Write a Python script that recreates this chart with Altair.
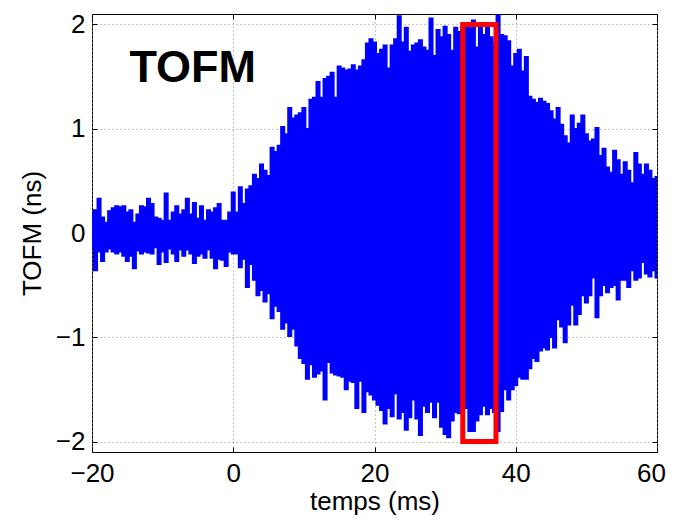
import altair as alt
import pandas as pd

# Envelope of the TOFM signal, every 0.5 ms from -20 to 60 ms
t_start = -20.0
t_step = 0.5
upper = [
    0.2, 0.22, 0.33, 0.15, 0.1, 0.21, 0.24, 0.26, 0.25, 0.26, 0.2, 0.22, 0.1, 0.18, 0.26, 0.25, 0.33, 0.28, 0.15, 0.14, 0.12,
    0.38, 0.12, 0.2, 0.26, 0.18, 0.22, 0.33, 0.18, 0.29, 0.14, 0.26, 0.12, 0.22, 0.2, 0.24, 0.28, 0.12, 0.12, 0.2, 0.39,
    0.2, 0.44, 0.28, 0.42, 0.45, 0.56, 0.52, 0.66, 0.6, 0.55, 0.82, 0.78, 0.84, 1.02, 0.95, 1.2, 1.1, 1.13, 1.15, 1.2,
    1.0, 1.28, 1.3, 1.45, 1.3, 1.48, 1.5, 1.54, 1.3, 1.6, 1.58, 1.56, 1.57, 1.61, 1.56, 1.6, 1.66, 1.82, 1.86, 1.83,
    1.72, 1.76, 1.8, 1.58, 1.8, 1.86, 2.08, 1.83, 1.97, 1.74, 1.8, 1.82, 1.85, 1.78, 1.75, 2.06, 1.7, 1.95, 1.88, 1.98,
    1.9, 1.75, 1.97, 1.93, 1.98, 1.98, 2.0, 2.04, 1.78, 2.0, 1.9, 1.99, 1.88, 1.83, 2.09, 1.9, 1.89, 1.84, 1.6, 1.72,
    1.76, 1.55, 1.69, 1.31, 1.28, 1.25, 1.29, 1.26, 1.24, 1.17, 1.09, 1.2, 1.04, 0.93, 0.86, 1.13, 1.0, 1.05, 1.13, 0.95,
    0.88, 0.9, 1.01, 0.74, 0.81, 0.63, 0.58, 0.79, 0.7, 0.56, 0.68, 0.6, 0.48, 0.77, 0.66, 0.56, 0.66, 0.6, 0.52, 0.54,
]
lower = [
    -0.15, -0.36, -0.18, -0.27, -0.18, -0.15, -0.18, -0.2, -0.18, -0.22, -0.27, -0.22, -0.34, -0.17, -0.2, -0.18, -0.19, -0.2, -0.14, -0.3, -0.18,
    -0.28, -0.15, -0.2, -0.27, -0.16, -0.22, -0.16, -0.2, -0.29, -0.22, -0.2, -0.24, -0.16, -0.24, -0.34, -0.25, -0.26, -0.32, -0.18, -0.2,
    -0.2, -0.33, -0.25, -0.52, -0.3, -0.45, -0.6, -0.55, -0.66, -0.58, -0.82, -0.7, -0.75, -0.92, -0.86, -0.99, -0.92, -1.08, -1.2, -1.25,
    -1.4, -1.26, -1.38, -1.35, -1.32, -1.6, -1.24, -1.34, -1.36, -1.37, -1.38, -1.5, -1.42, -1.43, -1.68, -1.42, -1.72, -1.52, -1.55, -1.6,
    -1.65, -1.7, -1.83, -1.68, -1.76, -1.54, -1.78, -1.72, -1.89, -1.77, -1.6, -1.78, -1.94, -1.66, -1.72, -1.62, -1.77, -1.62, -1.86, -1.93,
    -1.96, -1.8, -1.72, -1.73, -1.68, -1.68, -1.9, -1.9, -1.8, -1.74, -1.66, -1.74, -1.68, -1.72, -1.9, -1.71, -1.5, -1.6, -1.5, -1.46,
    -1.38, -1.4, -1.4, -1.3, -1.2, -1.23, -1.13, -1.1, -1.12, -1.0, -1.1, -0.83, -0.9, -1.05, -0.88, -0.69, -0.88, -0.78, -0.6, -0.67,
    -0.6, -0.43, -0.81, -0.6, -0.5, -0.57, -0.52, -0.5, -0.64, -0.45, -0.45, -0.52, -0.36, -0.45, -0.43, -0.28, -0.39, -0.42, -0.36, -0.43,
]
times = [t_start + i * t_step for i in range(len(upper))]

# Highlight box (ms, ns)
box_t1, box_t2 = [32.5], [37.2]
box_y1, box_y2 = [-2.0], [2.0]

# Annotation
label_text = ["TOFM"]
label_t = [-14.7]
label_y = [1.45]

x_ticks = [-20, 0, 20, 40, 60]
y_ticks = [-2, -1, 0, 1, 2]

FONT = "Liberation Sans"
BLUE = "#0000ff"
FS = 26

sig = pd.DataFrame({"t": times, "upper": upper, "lower": lower})
box = pd.DataFrame({"t1": box_t1, "t2": box_t2, "y1": box_y1, "y2": box_y2})
lab = pd.DataFrame({"t": label_t, "y": label_y, "label": label_text})

xscale = alt.Scale(domain=[-20, 60], nice=False, zero=False)
yscale = alt.Scale(domain=[-2.1, 2.1], nice=False, zero=False)

common_axis = dict(
    grid=True, gridDash=[1, 3], gridColor="#8c8c8c", gridWidth=1,
    domain=False, ticks=True, tickSize=5, tickColor="black", tickWidth=1, offset=-5,
    labelFontSize=FS, labelFont=FONT, labelColor="black", labelFlush=False,
    titleFont=FONT, titleFontSize=FS, titleFontWeight="normal", titleColor="black",
    format="d",
)

area = alt.Chart(sig).mark_area(color=BLUE, opacity=1, clip=True, interpolate="step").encode(
    x=alt.X("t:Q", scale=xscale, title="temps (ms)",
            axis=alt.Axis(values=x_ticks, labelPadding=8, titlePadding=2,
                          labelOffset={"expr": "datum.value == 60 ? -6 : 0"},
                          **common_axis)),
    y=alt.Y("lower:Q", scale=yscale, title="TOFM (ns)",
            axis=alt.Axis(values=y_ticks, labelPadding=7, titlePadding=10, **common_axis)),
    y2="upper:Q",
)

line_up = alt.Chart(sig).mark_line(color=BLUE, strokeWidth=1.5, clip=True, interpolate="step").encode(
    x=alt.X("t:Q", scale=xscale, axis=None),
    y=alt.Y("upper:Q", scale=yscale, axis=None),
)
line_lo = alt.Chart(sig).mark_line(color=BLUE, strokeWidth=1.5, clip=True, interpolate="step").encode(
    x=alt.X("t:Q", scale=xscale, axis=None),
    y=alt.Y("lower:Q", scale=yscale, axis=None),
)

minor_axis = dict(labels=False, grid=False, domain=False, ticks=True, tickSize=5,
                  tickColor="black", tickWidth=1, offset=-5, title=None)

rect = alt.Chart(box).mark_rect(filled=False, stroke="#ff0000", strokeWidth=5, clip=True).encode(
    x=alt.X("t1:Q", scale=xscale, axis=alt.Axis(orient="top", values=x_ticks, **minor_axis)),
    x2="t2:Q",
    y=alt.Y("y1:Q", scale=yscale, axis=alt.Axis(orient="right", values=y_ticks, **minor_axis)),
    y2="y2:Q",
)

text = alt.Chart(lab).mark_text(font=FONT, fontSize=45, fontWeight="bold", align="left",
                                baseline="alphabetic", color="black").encode(
    x=alt.X("t:Q", scale=xscale, axis=None),
    y=alt.Y("y:Q", scale=yscale, axis=None),
    text="label:N",
)

chart = alt.layer(area, line_up, line_lo, rect, text).resolve_axis(
    x="independent", y="independent"
).properties(
    width=565, height=438,
    autosize=alt.AutoSizeParams(type="none"),
    padding={"left": 84, "top": 6, "right": 9, "bottom": 63},
    background="white",
).configure_view(stroke="black", strokeWidth=1)

chart.save("out.html", embed_options={"renderer": "svg", "actions": False})
